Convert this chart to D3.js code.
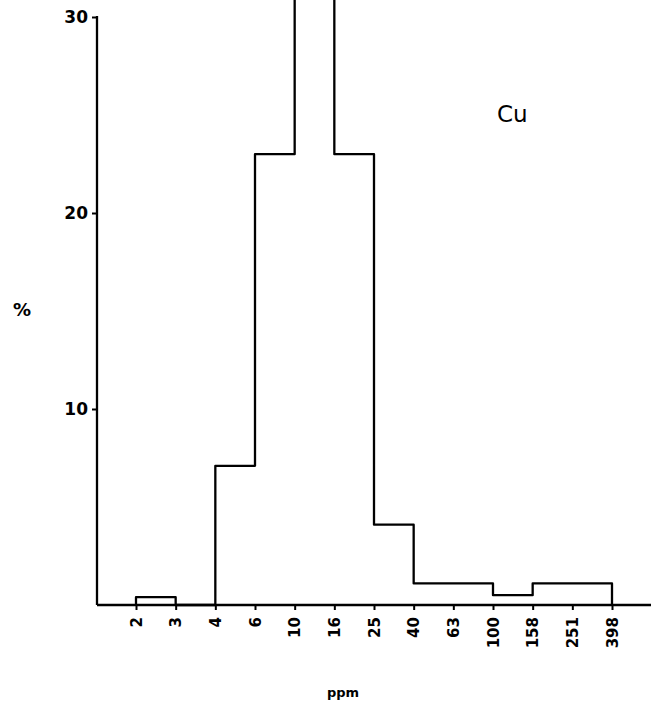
<!DOCTYPE html>
<html>
<head>
<meta charset="utf-8">
<script src="https://cdn.jsdelivr.net/npm/d3@7"></script>
<style>
  html, body { margin: 0; padding: 0; background: #fff; }
  svg { display: block; }
  text { font-family: "DejaVu Sans", "Liberation Sans", sans-serif; fill: #000; }
</style>
</head>
<body>
<svg id="chart" width="651" height="705"></svg>
<script>
// Bin edges (ppm, log-spaced classes) and the percentage of samples per class
const binEdges = ["2", "3", "4", "6", "10", "16", "25", "40", "63", "100", "158", "251", "398"];
const percent  = [0.4, 0, 7.1, 23.0, 35, 23.0, 4.1, 1.1, 1.1, 0.5, 1.1, 1.1];
const yTicks   = [10, 20, 30];
const element  = "Cu";

const W = 651, H = 705;
const svg = d3.select("#chart");
svg.append("rect").attr("width", W).attr("height", H).attr("fill", "#fff");

const axisX0 = 97, baseY = 605;

const x = d3.scalePoint().domain(binEdges).range([136, 612]);
const y = d3.scaleLinear().domain([0, 30]).range([baseY, 17]);

// Histogram outline as a single stepped path
const pts = [[binEdges[0], 0]];
percent.forEach((v, i) => {
  pts.push([binEdges[i], v]);
  pts.push([binEdges[i + 1], v]);
});
pts.push([binEdges[binEdges.length - 1], 0]);

const line = d3.line().x(d => x(d[0])).y(d => y(d[1]));

svg.append("path")
  .attr("d", line(pts))
  .attr("fill", "none")
  .attr("stroke", "#000")
  .attr("stroke-width", 2.3)
  .attr("stroke-linejoin", "round");

// Y axis
const yAxis = svg.append("g")
  .attr("transform", `translate(${axisX0},0)`)
  .call(d3.axisLeft(y).tickValues(yTicks).tickSize(5).tickFormat(d3.format("d")));
yAxis.select(".domain").remove();
yAxis.selectAll(".tick line").attr("stroke", "#000").attr("stroke-width", 2);
yAxis.selectAll(".tick text")
  .attr("x", -9)
  .style("font-size", "17px")
  .style("font-weight", "bold")
  .attr("dy", "0.35em");
svg.append("line")
  .attr("x1", axisX0).attr("x2", axisX0)
  .attr("y1", y(30) - 1).attr("y2", baseY)
  .attr("stroke", "#000").attr("stroke-width", 2.3);

// X axis
const xAxis = svg.append("g")
  .attr("transform", `translate(0,${baseY})`)
  .call(d3.axisBottom(x).tickSize(5));
xAxis.select(".domain").remove();
xAxis.selectAll(".tick line").attr("stroke", "#000").attr("stroke-width", 2);
xAxis.selectAll(".tick text")
  .attr("transform", "rotate(-90)")
  .attr("x", -12)
  .attr("y", 0)
  .attr("dy", "0.35em")
  .attr("text-anchor", "end")
  .style("font-size", "15px")
  .style("font-weight", "bold");
svg.append("line")
  .attr("x1", axisX0).attr("x2", W)
  .attr("y1", baseY).attr("y2", baseY)
  .attr("stroke", "#000").attr("stroke-width", 2.3);

// Axis titles and element label
svg.append("text")
  .attr("x", 22).attr("y", 316)
  .attr("text-anchor", "middle")
  .style("font-size", "18px")
  .style("font-weight", "bold")
  .text("%");

svg.append("text")
  .attr("x", 343).attr("y", 697)
  .attr("text-anchor", "middle")
  .style("font-size", "13px")
  .style("font-weight", "bold")
  .text("ppm");

svg.append("text")
  .attr("x", 497).attr("y", 122)
  .style("font-size", "23px")
  .text(element);
</script>
</body>
</html>
